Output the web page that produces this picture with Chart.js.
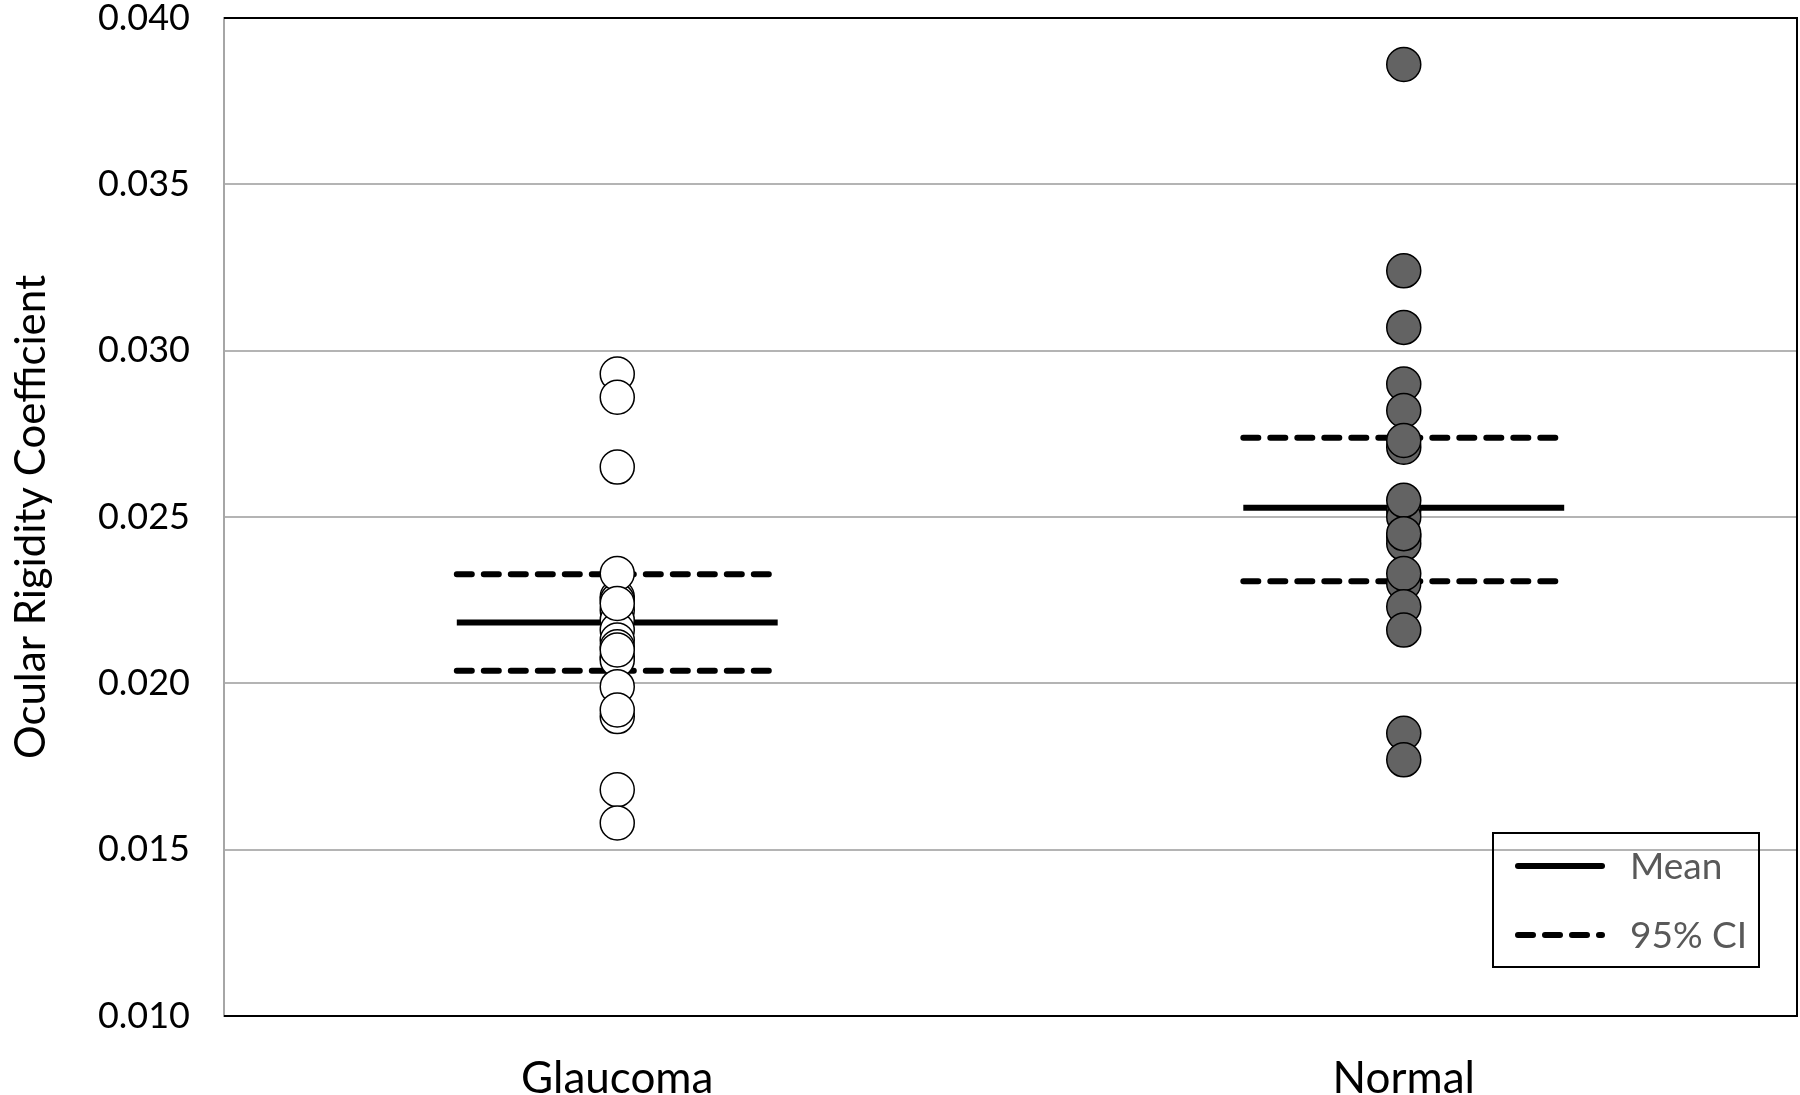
<!DOCTYPE html>
<html>
<head>
<meta charset="utf-8">
<script src="https://cdn.jsdelivr.net/npm/chart.js@4.4.1/dist/chart.umd.min.js"></script>
<style>
  html,body{margin:0;padding:0;background:#fff;}
  #wrap{width:1800px;height:1095px;}
</style>
</head>
<body>
<div id="wrap"><canvas id="chart" width="1800" height="1095"></canvas></div>
<script>
/* ================= Data ================= */
// order = drawing order (later values sit on top of earlier ones)
const groups = ['Glaucoma', 'Normal'];
const glaucoma = [0.0226, 0.0225, 0.0222, 0.0219, 0.0216, 0.0213, 0.0211, 0.0208, 0.0207, 0.0190,
                  0.0293, 0.0286, 0.0265, 0.0233, 0.0224, 0.0210, 0.0199, 0.0192, 0.0168, 0.0158];
const normal = [0.0271, 0.0252, 0.0250, 0.0244, 0.0242, 0.0230,
                0.0386, 0.0324, 0.0307, 0.0290, 0.0282, 0.0273, 0.0255, 0.0245, 0.0233, 0.0223,
                0.0216, 0.0185, 0.0177];
const means   = [0.02183, 0.02528];
const ciUpper = [0.02328, 0.02738];
const ciLower = [0.02038, 0.02307];
const yMin = 0.010, yMax = 0.040, yStep = 0.005;
const legendLabels = ['Mean', '95% CI'];

const FONT = 'Lato';
const HALF = 0.204;   // half length of the mean / CI bars, in category units

/* ================= Datasets ================= */
function bar(i, v, dashed){
  return {
    type: 'line',
    data: [{x: i - HALF, y: v}, {x: i + HALF, y: v}],
    borderColor: '#000',
    borderWidth: 6,
    borderDash: dashed ? [15, 12] : [],
    borderCapStyle: dashed ? 'round' : 'butt',
    pointRadius: 0,
    order: 2
  };
}

const datasets = [
  {
    type: 'scatter',
    data: glaucoma.map(v => ({x: 0, y: v})),
    pointRadius: 17,
    pointBackgroundColor: '#ffffff',
    pointBorderColor: '#000',
    pointBorderWidth: 1.5,
    order: 0
  },
  {
    type: 'scatter',
    data: normal.map(v => ({x: 1, y: v})),
    pointRadius: 17,
    pointBackgroundColor: '#636363',
    pointBorderColor: '#000',
    pointBorderWidth: 1.5,
    order: 0
  }
];
groups.forEach((g, i) => {
  datasets.push(bar(i, means[i], false));
  datasets.push(bar(i, ciUpper[i], true));
  datasets.push(bar(i, ciLower[i], true));
});

/* ================= Frame + legend ================= */
const frame = {
  id: 'frame',
  beforeDatasetsDraw(c){
    const a = c.chartArea, ctx = c.ctx;
    ctx.save();
    ctx.strokeStyle = '#000';
    ctx.lineWidth = 2;
    ctx.beginPath();
    ctx.moveTo(a.left, a.top);
    ctx.lineTo(a.right, a.top);
    ctx.lineTo(a.right, a.bottom);
    ctx.lineTo(a.left, a.bottom);
    ctx.stroke();
    ctx.restore();
  },
  afterDraw(c){
    const a = c.chartArea, ctx = c.ctx;
    const bx = a.right - 304, by = a.bottom - 183, bw = 266, bh = 134;
    ctx.save();
    ctx.strokeStyle = '#000';
    ctx.lineWidth = 2;
    ctx.strokeRect(bx, by, bw, bh);

    const rows = [by + 33, by + 102];
    ctx.lineWidth = 6;
    ctx.lineCap = 'round';
    ctx.beginPath();
    ctx.moveTo(bx + 25, rows[0]);
    ctx.lineTo(bx + 109, rows[0]);
    ctx.stroke();
    ctx.setLineDash([15, 12]);
    ctx.beginPath();
    ctx.moveTo(bx + 25, rows[1]);
    ctx.lineTo(bx + 109, rows[1]);
    ctx.stroke();
    ctx.setLineDash([]);

    ctx.fillStyle = '#595959';
    ctx.font = '37px ' + FONT;
    ctx.textBaseline = 'middle';
    ctx.textAlign = 'left';
    legendLabels.forEach((t, i) => ctx.fillText(t, bx + 137, rows[i] + 1));
    ctx.restore();
  }
};

/* ================= Chart ================= */
new Chart(document.getElementById('chart'), {
  data: { datasets },
  options: {
    responsive: false,
    animation: false,
    layout: { autoPadding: false, padding: { top: 18, right: 3, left: 0, bottom: 0 } },
    plugins: { legend: { display: false }, tooltip: { enabled: false } },
    scales: {
      x: {
        type: 'linear',
        min: -0.5,
        max: 1.5,
        grid: { display: false },
        border: { display: false },
        afterBuildTicks: s => { s.ticks = groups.map((g, i) => ({ value: i })); },
        afterFit: s => { s.height = 79; s.paddingLeft = 0; s.paddingRight = 0; },
        ticks: {
          callback: v => groups[v],
          color: '#000',
          font: { family: FONT, size: 44 },
          padding: 28,
          maxRotation: 0
        }
      },
      y: {
        min: yMin,
        max: yMax,
        grid: {
          color: '#b4b4b4',
          lineWidth: 2,
          drawTicks: false
        },
        border: { color: '#a6a6a6', width: 2 },
        afterFit: s => { s.width = 224; s.paddingTop = 0; s.paddingBottom = 0; },
        ticks: {
          stepSize: yStep,
          callback: v => v.toFixed(3),
          color: '#000',
          font: { family: FONT, size: 36 },
          padding: 34
        },
        title: {
          display: true,
          text: 'Ocular Rigidity Coefficient',
          color: '#000',
          font: { family: FONT, size: 42 },
          padding: { top: 6, bottom: 0 }
        }
      }
    }
  },
  plugins: [frame]
});
</script>
</body>
</html>
